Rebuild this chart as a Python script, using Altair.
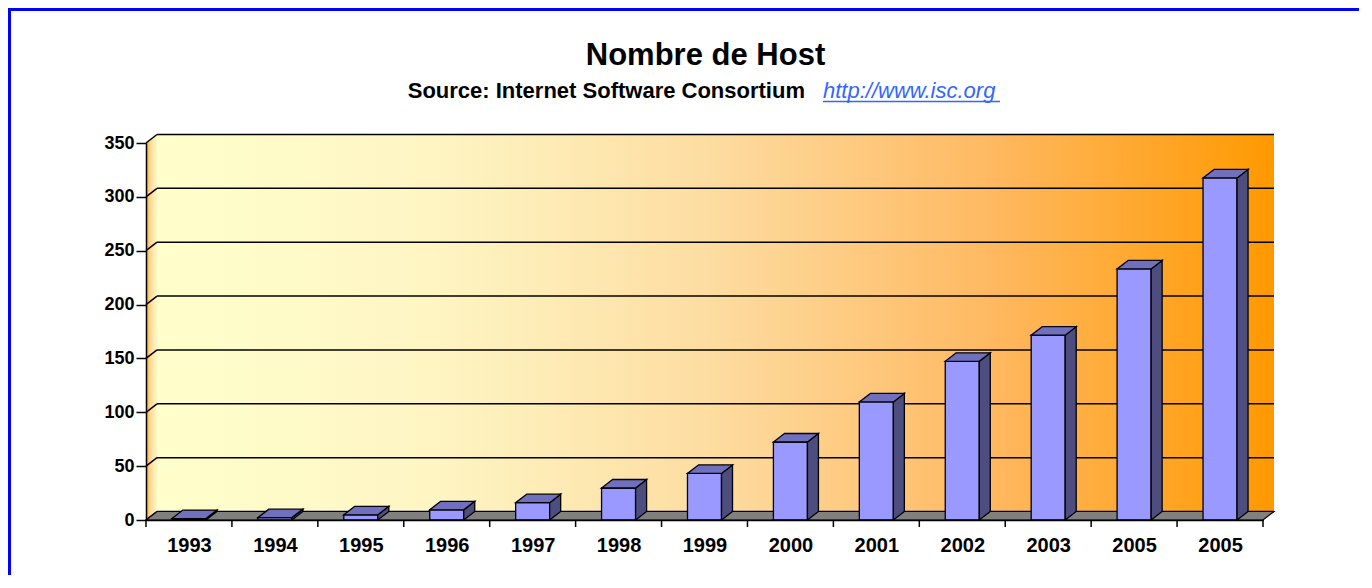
import json
import altair as alt
import pandas as pd

# ---------------- data ----------------
TITLE = "Nombre de Host"
SOURCE = "Source: Internet Software Consortium"
LINK = "http://www.isc.org"
years = ["1993", "1994", "1995", "1996", "1997", "1998", "1999",
         "2000", "2001", "2002", "2003", "2005", "2005"]
hosts = [1.3, 2.2, 4.85, 9.47, 16.1, 29.7, 43.2, 72.4, 109.6, 147.3, 171.6, 233.1, 317.6]
y_ticks = [0, 50, 100, 150, 200, 250, 300, 350]

# ---------------- layout / style ----------------
W, H = 1117, 377
PAD = {"left": 138, "top": 135, "right": 100, "bottom": 55}
N = len(years)
Y_MAX = 350
DX_PX, DY_PX = 11, 8.5            # 3-D depth in pixels
dxu = DX_PX * N / W               # depth in x data units
dyu = DY_PX * Y_MAX / H           # depth in y data units
HALF = 0.198                      # half bar width (band units)
FONT = "Liberation Sans"

FRONT = "#9999FF"
SIDE = "#4D4D80"
TOP = "#7070BE"
FLOOR = "#808080"

xs = alt.Scale(domain=[0, N], nice=False, zero=False)
ys = alt.Scale(domain=[0, Y_MAX], nice=False, zero=False)

x_axis = alt.Axis(
    values=[i + 0.5 for i in range(N)],
    labelExpr=f"{json.dumps(years)}[floor(datum.value)]",
    ticks=False, grid=False, title=None, domain=True,
    domainColor="black", domainWidth=1.5,
    labelFont=FONT, labelFontSize=20, labelFontWeight="bold", labelColor="black",
    labelPadding=15, labelFlush=False, labelOverlap=False, zindex=1,
)
y_axis = alt.Axis(
    values=y_ticks, grid=False, title=None, domain=True,
    domainColor="black", domainWidth=1.5,
    tickColor="black", tickWidth=1.5, tickSize=10,
    labelFont=FONT, labelFontSize=18, labelFontWeight="bold", labelColor="black",
    labelPadding=2, zindex=1,
)


def X(f):
    return alt.X(f, type="quantitative", scale=xs, axis=x_axis, stack=None)


def Y(f):
    return alt.Y(f, type="quantitative", scale=ys, axis=y_axis, stack=None)


# ---------------- tables built from the arrays ----------------
bars = pd.DataFrame({"i": list(range(N)), "year": years, "v": hosts})
bars["L"] = bars["i"] + 0.5 - HALF
bars["R"] = bars["i"] + 0.5 + HALF
bars["z"] = 0.0

side_rows, top_rows = [], []
for _, r in bars.iterrows():
    side_rows.append({"i": int(r.i), "x": r.R, "y0": 0.0, "y1": r.v})
    side_rows.append({"i": int(r.i), "x": r.R + dxu, "y0": dyu, "y1": r.v + dyu})
    top_rows.append({"i": int(r.i), "y": r.v, "xa": r.L, "xb": r.R})
    top_rows.append({"i": int(r.i), "y": r.v + dyu, "xa": r.L + dxu, "xb": r.R + dxu})
sides = pd.DataFrame(side_rows)
tops = pd.DataFrame(top_rows)

wall = pd.DataFrame({"x0": [dxu], "x1": [N + dxu], "y0": [dyu], "y1": [Y_MAX + dyu]})
side_wall = pd.DataFrame({"x": [0, dxu], "y0": [0, dyu], "y1": [Y_MAX, Y_MAX + dyu]})
floor = pd.DataFrame({"y": [0, dyu], "xa": [0, dxu], "xb": [N, N + dxu]})
grid_back = pd.DataFrame({"x0": [dxu] * len(y_ticks), "x1": [N + dxu] * len(y_ticks),
                          "y": [v + dyu for v in y_ticks]})
grid_diag = pd.DataFrame({"x0": [0] * len(y_ticks), "x1": [dxu] * len(y_ticks),
                          "y0": y_ticks, "y1": [v + dyu for v in y_ticks]})
x_tick_df = pd.DataFrame({"k": list(range(N + 1))})

one = pd.DataFrame({"t": [TITLE], "s": [SOURCE], "l": [LINK]})

wall_grad = {
    "gradient": "linear", "x1": 0, "y1": 0, "x2": 1, "y2": 0,
    "stops": [
        {"offset": 0.0, "color": "#FFFFCC"},
        {"offset": 0.25, "color": "#FEF5C3"},
        {"offset": 0.5, "color": "#FDDCA0"},
        {"offset": 0.75, "color": "#FFB860"},
        {"offset": 1.0, "color": "#FF9900"},
    ],
}
side_grad = {
    "gradient": "linear", "x1": 0, "y1": 0, "x2": 1, "y2": 0,
    "stops": [
        {"offset": 0.0, "color": "#FF9A30"},
        {"offset": 0.35, "color": "#FFD890"},
        {"offset": 1.0, "color": "#FFF8C8"},
    ],
}

# ---------------- layers ----------------
# blue frame: left and top edges only
border_left = alt.Chart(one).mark_rule(color="#0000FF", strokeWidth=3.5).encode(
    x=alt.value(-136.75), x2=alt.value(-136.75),
    y=alt.value(-135.5), y2=alt.value(H + PAD["bottom"]),
)
border_top = alt.Chart(one).mark_rule(color="#0000FF", strokeWidth=3.5).encode(
    x=alt.value(-138.5), x2=alt.value(W + 96),
    y=alt.value(-133.75), y2=alt.value(-133.75),
)

title_t = alt.Chart(one).mark_text(
    font=FONT, fontSize=31, fontWeight="bold", color="black",
    align="center", baseline="alphabetic",
).encode(text="t:N", x=alt.value(559.5), y=alt.value(-78))

source_t = alt.Chart(one).mark_text(
    font=FONT, fontSize=22, fontWeight="bold", color="black",
    align="right", baseline="alphabetic",
).encode(text="s:N", x=alt.value(659), y=alt.value(-45))

link_t = alt.Chart(one).mark_text(
    font=FONT, fontSize=22, fontStyle="italic", color="#3366FF",
    align="left", baseline="alphabetic",
).encode(text="l:N", x=alt.value(677), y=alt.value(-45))

link_u = alt.Chart(one).mark_rule(color="#3366FF", strokeWidth=1.5).encode(
    x=alt.value(677), x2=alt.value(854), y=alt.value(-41.5), y2=alt.value(-41.5)
)

wall_l = alt.Chart(wall).mark_rect(fill=wall_grad).encode(
    x=X("x0"), x2="x1", y=Y("y0"), y2="y1"
)
side_wall_l = alt.Chart(side_wall).mark_area(fill=side_grad).encode(
    x=X("x"), y=Y("y0"), y2="y1"
)
grid_back_l = alt.Chart(grid_back).mark_rule(color="black", strokeWidth=1.5).encode(
    x=X("x0"), x2="x1", y=Y("y")
)
grid_diag_l = alt.Chart(grid_diag).mark_rule(color="black", strokeWidth=1.5).encode(
    x=X("x0"), x2="x1", y=Y("y0"), y2="y1"
)
floor_l = alt.Chart(floor).mark_area(
    orient="horizontal", fill=FLOOR, stroke="black", strokeWidth=1.2
).encode(y=Y("y"), x=X("xa"), x2="xb")

front_l = alt.Chart(bars).mark_rect(
    fill=FRONT, stroke="black", strokeWidth=1.3
).encode(x=X("L"), x2="R", y=Y("z"), y2="v")

side_l = alt.Chart(sides).mark_area(
    fill=SIDE, stroke="black", strokeWidth=1.3
).encode(x=X("x"), y=Y("y0"), y2="y1", detail="i:N")

top_l = alt.Chart(tops).mark_area(
    orient="horizontal", fill=TOP, stroke="black", strokeWidth=1.3
).encode(y=Y("y"), x=X("xa"), x2="xb", detail="i:N")

xtick_l = alt.Chart(x_tick_df).mark_rule(color="black", strokeWidth=1.5).encode(
    x=X("k"), y=alt.value(H), y2=alt.value(H + 7)
)

chart = alt.layer(
    border_left, border_top, title_t, source_t, link_t, link_u,
    wall_l, side_wall_l, grid_back_l, grid_diag_l, floor_l,
    front_l, side_l, top_l, xtick_l,
).properties(
    width=W, height=H,
    padding=PAD,
    autosize=alt.AutoSizeParams(type="none"),
    background="white",
).configure_view(stroke=None)

chart.save("out.html", embed_options={"renderer": "svg", "actions": False})
